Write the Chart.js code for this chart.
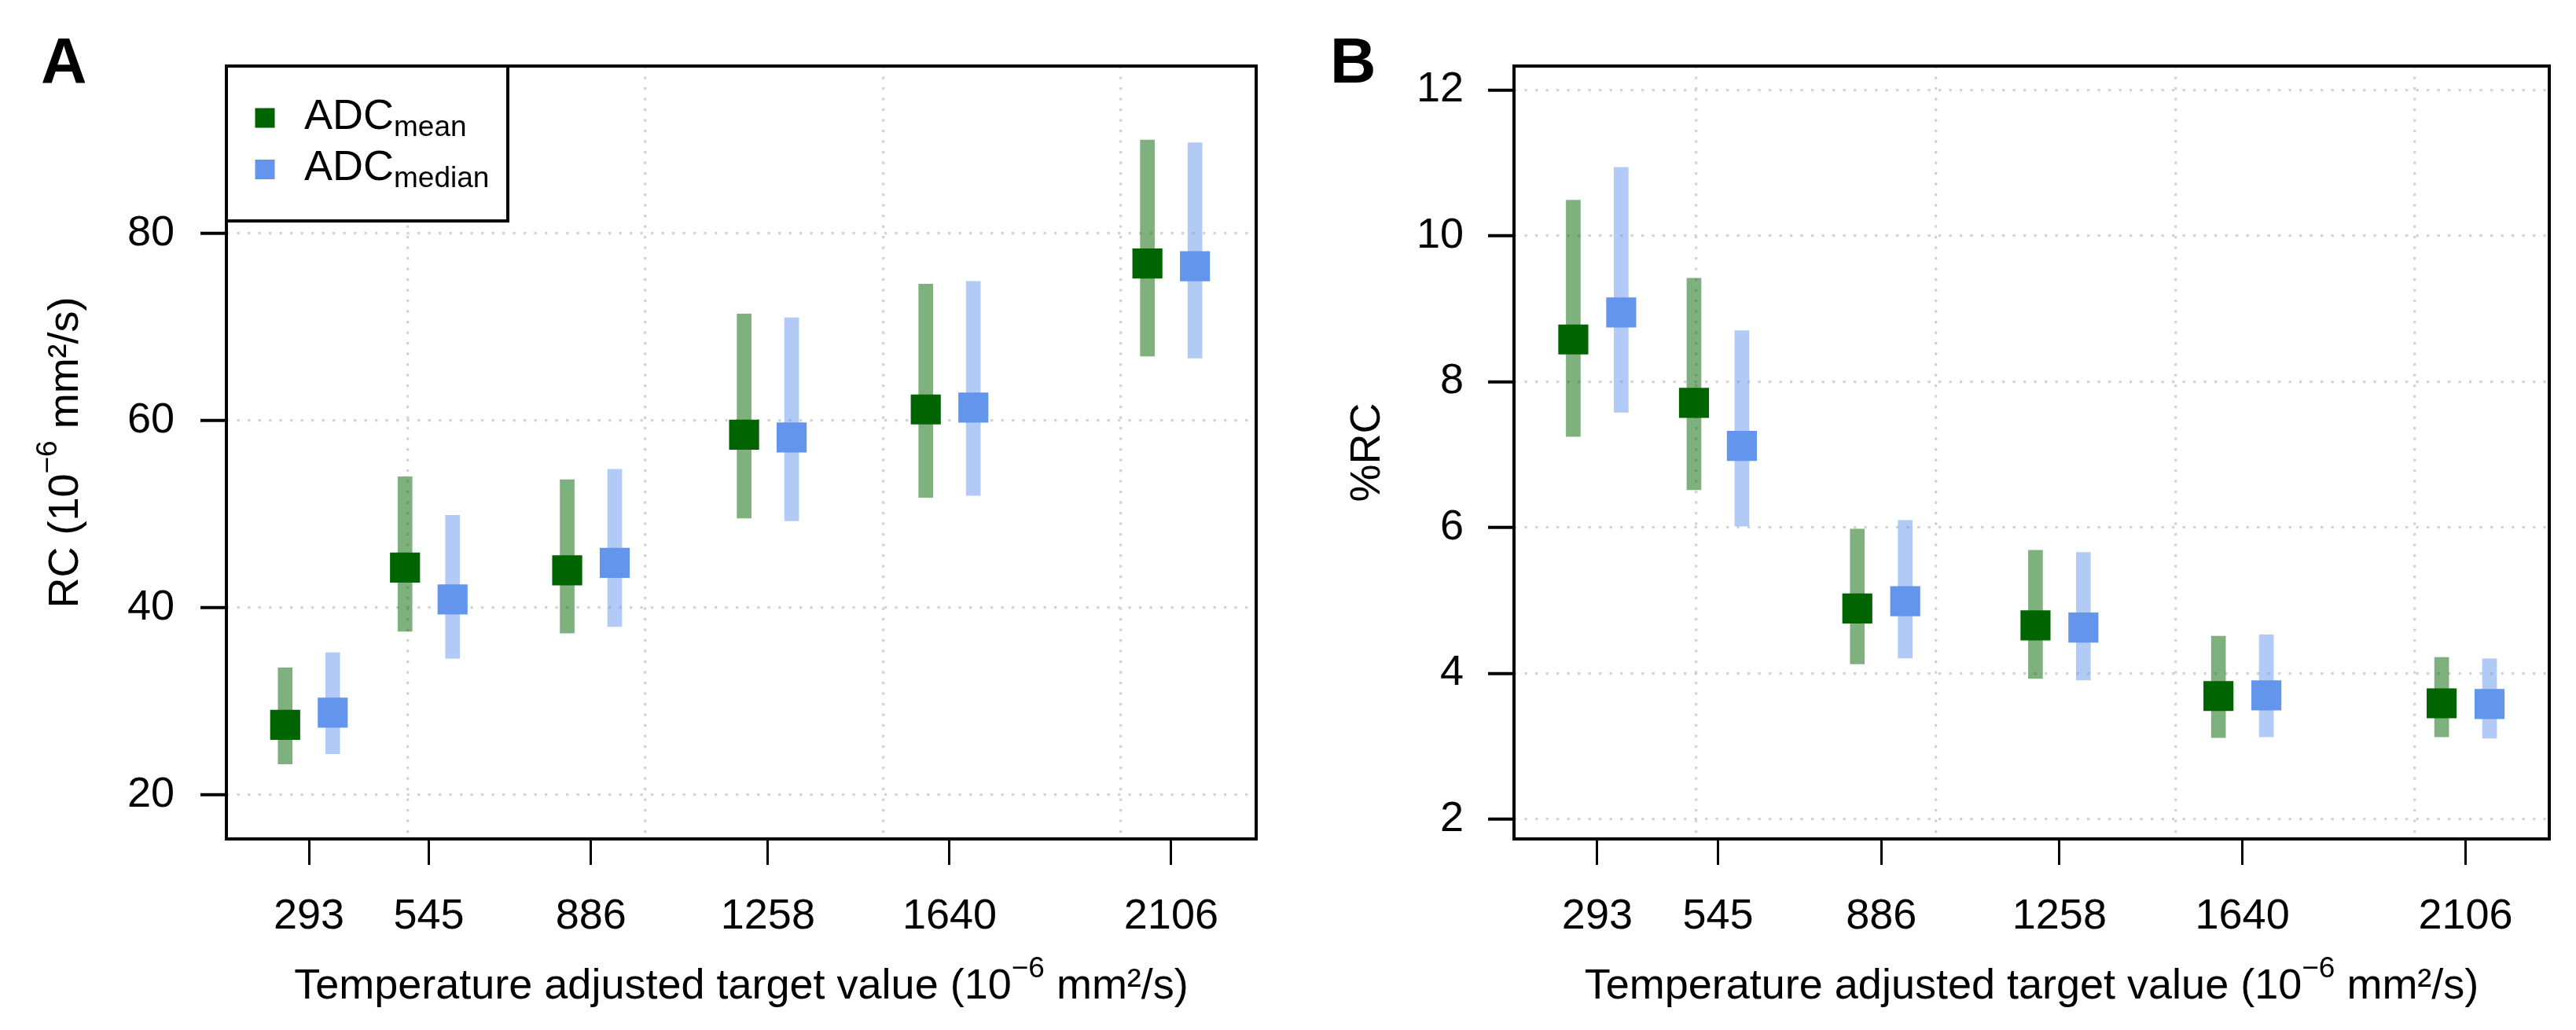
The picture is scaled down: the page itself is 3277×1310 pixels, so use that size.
<!DOCTYPE html>
<html><head><meta charset="utf-8">
<script src="https://cdn.jsdelivr.net/npm/chart.js@4.4.1/dist/chart.umd.min.js"></script>
<style>
html,body{margin:0;padding:0;background:#fff;}
body{width:3277px;height:1310px;position:relative;overflow:hidden;}
.panel{position:absolute;top:0;height:1310px;}
#pa{left:0;width:1640px;}
#pb{left:1640px;width:1637px;}
canvas{display:block;}
</style></head><body>
<div class="panel" id="pa"><canvas id="ca" width="1640" height="1310"></canvas></div>
<div class="panel" id="pb"><canvas id="cb" width="1637" height="1310"></canvas></div>
<script>
// ---------- data ----------
const targets = [293, 545, 886, 1258, 1640, 2106];
const xGridValues = [500, 1000, 1500, 2000];

// Panel A: RC (10^-6 mm²/s)
const rcMean     = [27.5, 44.3, 44.0, 58.5, 61.2, 76.8];
const rcMeanLo   = [23.3, 37.5, 37.3, 49.6, 51.8, 66.9];
const rcMeanHi   = [33.6, 54.0, 53.7, 71.4, 74.6, 90.0];
const rcMedian   = [28.8, 40.9, 44.8, 58.2, 61.4, 76.5];
const rcMedianLo = [24.4, 34.6, 38.0, 49.3, 52.0, 66.7];
const rcMedianHi = [35.2, 49.9, 54.8, 71.0, 74.9, 89.7];
const rcTicks    = [20, 40, 60, 80];

// Panel B: %RC
const pMean     = [8.58, 7.71, 4.89, 4.66, 3.69, 3.59];
const pMeanLo   = [7.25, 6.52, 4.13, 3.93, 3.12, 3.13];
const pMeanHi   = [10.49, 9.42, 5.98, 5.69, 4.51, 4.22];
const pMedian   = [8.95, 7.12, 4.99, 4.63, 3.70, 3.58];
const pMedianLo = [7.58, 6.02, 4.21, 3.91, 3.13, 3.11];
const pMedianHi = [10.94, 8.70, 6.10, 5.66, 4.53, 4.20];
const pTicks    = [2, 4, 6, 8, 10, 12];

const legendBase = ['ADC', 'ADC'];
const legendSub  = ['mean', 'median'];

// ---------- style ----------
const FONT = '"Liberation Sans", Arial, Helvetica, sans-serif';
const FS = 54, SCRIPT = 37;
const DODGE = 50;
const GREEN = '#006400', GREEN_BAR = 'rgba(0,100,0,0.5)';
const BLUE = '#6495ED', BLUE_BAR = 'rgba(100,149,237,0.5)';
const GRID = '#D3D3D3';

const xTitleParts = [
  {t: 'Temperature adjusted target value (10', size: FS},
  {t: '\u22126', size: SCRIPT, dy: -27},
  {t: ' mm\u00B2/s)', size: FS}
];

function drawParts(ctx, parts, x, y, align) {
  const widths = parts.map(p => { ctx.font = p.size + 'px ' + FONT; return ctx.measureText(p.t).width; });
  const total = widths.reduce((a, b) => a + b, 0);
  let cx = align === 'center' ? x - total / 2 : x;
  ctx.textAlign = 'left';
  ctx.textBaseline = 'alphabetic';
  parts.forEach((p, i) => {
    ctx.font = p.size + 'px ' + FONT;
    ctx.fillText(p.t, cx, y + (p.dy || 0));
    cx += widths[i];
  });
}

function panelPlugin(cfg) {
  return {
    id: 'panel' + cfg.label,
    afterDraw(chart) {
      const ctx = chart.ctx, a = chart.chartArea;
      ctx.save();
      ctx.strokeStyle = '#000';
      ctx.lineWidth = 4;
      ctx.strokeRect(a.left, a.top, a.right - a.left, a.bottom - a.top);
      if (cfg.legend) {
        const pts = chart.data.datasets.filter(d => d.type === 'scatter');
        ctx.fillStyle = '#fff';
        ctx.fillRect(a.left, a.top, 358, 197);
        ctx.strokeRect(a.left, a.top, 358, 197);
        pts.forEach((d, i) => {
          const cy = a.top + 66 + i * 65.5;
          ctx.fillStyle = d.backgroundColor;
          ctx.fillRect(a.left + 49 - 12.5, cy - 12.5, 25, 25);
          ctx.fillStyle = '#000';
          drawParts(ctx, [
            {t: legendBase[i], size: FS},
            {t: legendSub[i], size: SCRIPT, dy: 9}
          ], a.left + 99, a.top + 80 + i * 65, 'left');
        });
      }
      ctx.fillStyle = '#000';
      drawParts(ctx, xTitleParts, (a.left + a.right) / 2, 1270, 'center');
      ctx.save();
      ctx.translate(cfg.yTitleX, (a.top + a.bottom) / 2);
      ctx.rotate(-Math.PI / 2);
      drawParts(ctx, cfg.yTitle, 0, 0, 'center');
      ctx.restore();
      ctx.font = 'bold 81px ' + FONT;
      ctx.textAlign = 'left';
      ctx.textBaseline = 'alphabetic';
      ctx.fillText(cfg.label, 52, 105);
      ctx.restore();
    }
  };
}

function makeChart(canvasId, c) {
  const bar = (lo, hi, sign, color) => ({
    type: 'bar', xAxisID: 'x', yAxisID: 'y', order: 2, grouped: false,
    data: targets.map((t, i) => ({x: t + sign * DODGE, y: [lo[i], hi[i]]})),
    backgroundColor: color, barThickness: 18, borderWidth: 0
  });
  const pts = (vals, sign, color) => ({
    type: 'scatter', xAxisID: 'x', yAxisID: 'y', order: 0,
    data: targets.map((t, i) => ({x: t + sign * DODGE, y: vals[i]})),
    pointStyle: 'rect', pointRadius: 27, pointHoverRadius: 27,
    backgroundColor: color, borderWidth: 0, showLine: false
  });
  return new Chart(document.getElementById(canvasId), {
    type: 'bar',
    data: {
      datasets: [
        bar(c.meanLo, c.meanHi, -1, GREEN_BAR),
        bar(c.medLo, c.medHi, 1, BLUE_BAR),
        pts(c.mean, -1, GREEN),
        pts(c.med, 1, BLUE)
      ]
    },
    options: {
      responsive: false, animation: false, devicePixelRatio: 1, events: [],
      layout: {padding: {left: 0, top: 84, right: c.padRight, bottom: 0}},
      plugins: {legend: {display: false}, tooltip: {enabled: false}},
      scales: {
        x: {
          type: 'linear', axis: 'x', position: 'bottom', min: c.xMin, max: c.xMax, offset: false,
          afterBuildTicks: s => { s.ticks = targets.map(v => ({value: v})); },
          afterFit: s => { s.height = 243; },
          grid: {display: true, offset: false, drawOnChartArea: false, drawTicks: true, tickLength: 33, tickWidth: 3, tickColor: '#000', tickBorderDash: []},
          border: {display: false},
          ticks: {autoSkip: false, maxRotation: 0, minRotation: 0, padding: 34, color: '#000', font: {family: FONT, size: FS}, callback: v => String(v)}
        },
        x2: {
          type: 'linear', axis: 'x', position: 'bottom', min: c.xMin, max: c.xMax, offset: false,
          afterBuildTicks: s => { s.ticks = xGridValues.map(v => ({value: v})); },
          afterFit: s => { s.height = 0; },
          grid: {display: true, offset: false, drawOnChartArea: true, drawTicks: false, color: GRID, lineWidth: 3.3},
          border: {display: false, dash: [3.3, 10.2]},
          ticks: {display: false}
        },
        y: {
          type: 'linear', position: 'left', min: c.yMin, max: c.yMax,
          afterBuildTicks: s => { s.ticks = c.yTicks.map(v => ({value: v})); },
          afterFit: s => { s.width = c.yWidth; },
          grid: {display: true, offset: false, drawOnChartArea: true, drawTicks: true, color: GRID, lineWidth: 3.3,
                 tickLength: 33, tickWidth: 4, tickColor: '#000', tickBorderDash: []},
          border: {display: false, dash: [3.3, 10.2]},
          ticks: {padding: c.yPad, color: '#000', font: {family: FONT, size: FS}, callback: v => String(v)}
        }
      }
    },
    plugins: [panelPlugin(c.panel)]
  });
}

makeChart('ca', {
  mean: rcMean, meanLo: rcMeanLo, meanHi: rcMeanHi,
  med: rcMedian, medLo: rcMedianLo, medHi: rcMedianHi,
  yTicks: rcTicks, yMin: 15.3, yMax: 97.9, xMin: 119.4, xMax: 2284.7,
  yWidth: 288, padRight: 42, yPad: 33,
  panel: {label: 'A', legend: true, yTitleX: 99, yTitle: [
    {t: 'RC (10', size: FS}, {t: '\u22126', size: SCRIPT, dy: -27}, {t: ' mm\u00B2/s)', size: FS}
  ]}
});

makeChart('cb', {
  mean: pMean, meanLo: pMeanLo, meanHi: pMeanHi,
  med: pMedian, medLo: pMedianLo, medHi: pMedianHi,
  yTicks: pTicks, yMin: 1.73, yMax: 12.33, xMin: 119.2, xMax: 2280.7,
  yWidth: 286, padRight: 34, yPad: 31,
  panel: {label: 'B', legend: false, yTitleX: 115, yTitle: [{t: '%RC', size: FS}]}
});
</script>
</body></html>
